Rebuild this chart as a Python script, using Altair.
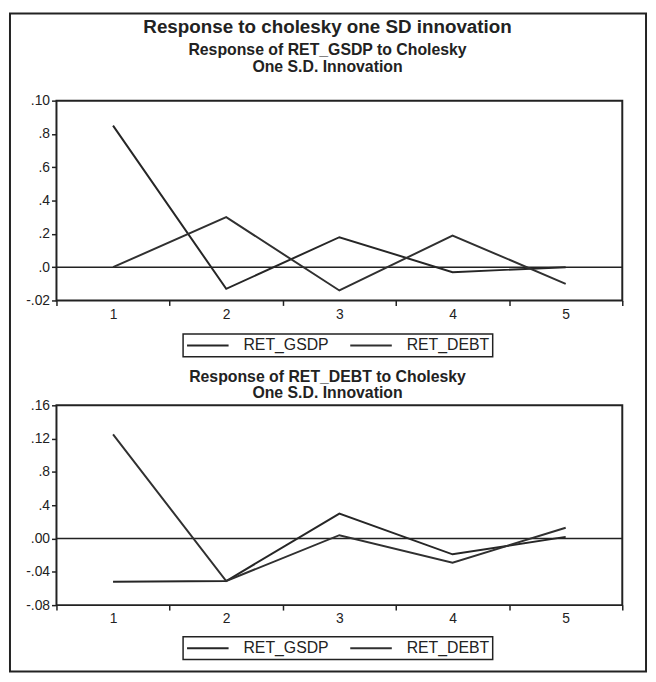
import altair as alt
import pandas as pd

# ---------------- data ----------------
periods = [1, 2, 3, 4, 5]
series_names = ["RET_GSDP", "RET_DEBT"]

# Panel 1: Response of RET_GSDP
gsdp_to_gsdp = [0.085, -0.013, 0.018, -0.003, 0.000]
gsdp_to_debt = [0.000, 0.030, -0.014, 0.019, -0.010]

# Panel 2: Response of RET_DEBT
debt_to_gsdp = [-0.052, -0.051, 0.030, -0.019, 0.002]
debt_to_debt = [0.125, -0.051, 0.004, -0.029, 0.013]

y1_ticks = [0.10, 0.08, 0.06, 0.04, 0.02, 0.00, -0.02]
y1_labels = [".10", ".8", ".6", ".4", ".2", ".0", "-.02"]
y2_ticks = [0.16, 0.12, 0.08, 0.04, 0.00, -0.04, -0.08]
y2_labels = [".16", ".12", ".8", ".4", ".00", "-.04", "-.08"]
x_ticks = [0.5, 1, 1.5, 2, 2.5, 3, 3.5, 4, 4.5, 5, 5.5]

main_title = "Response to cholesky one SD innovation"
panel1_title = ["Response of RET_GSDP to Cholesky", "One S.D. Innovation"]
panel2_title = ["Response of RET_DEBT to Cholesky", "One S.D. Innovation"]

# ---------------- styling / layout ----------------
W, H = 572, 202
FONT = "Liberation Sans"
INK = "#222222"
LINE_COLORS = ["#262626", "#303030"]


def long_df(a, b):
    return pd.DataFrame({
        "period": periods * 2,
        "value": a + b,
        "series": [series_names[0]] * len(a) + [series_names[1]] * len(b),
    })


def label_expr(ticks, labels):
    arr = "[" + ",".join("'" + s + "'" for s in labels) + "]"
    step = ticks[0] - ticks[1]
    return f"{arr}[round(({ticks[0]} - datum.value) / {step})]"


def text_layer(lines, x, y0, dy, size, bold=True):
    layers = []
    for i, line in enumerate(lines):
        layers.append(
            alt.Chart(pd.DataFrame({"t": [line]}))
            .mark_text(font=FONT, fontSize=size, fontWeight="bold" if bold else "normal",
                       color=INK, align="center", baseline="middle")
            .encode(text="t:N", x=alt.value(x), y=alt.value(y0 + i * dy))
        )
    return layers


def panel(df, ticks, labels, title_lines, title_y, legend_y, extra_layers=()):
    x = alt.X(
        "period:Q",
        scale=alt.Scale(domain=[0.5, 5.5], nice=False, zero=False),
        axis=alt.Axis(
            values=x_ticks,
            tickCount=len(x_ticks) + 5,
            labelExpr="datum.value % 1 == 0 ? datum.value : ''",
            tickOpacity={"condition": {"test": "datum.value % 1 != 0", "value": 1}, "value": 0},
            labelFlush=False,
            labelOverlap=False,
            labelFontSize=14,
            labelPadding=2,
            title=None,
        ),
    )
    y = alt.Y(
        "value:Q",
        scale=alt.Scale(domain=[ticks[-1], ticks[0]], nice=False, zero=False),
        axis=alt.Axis(values=ticks, tickCount=len(ticks) + 5,
                      labelExpr=label_expr(ticks, labels),
                      labelOverlap=False, labelFlush=False, labelPadding=2, title=None),
    )
    color = alt.Color(
        "series:N",
        scale=alt.Scale(domain=series_names, range=LINE_COLORS),
        legend=alt.Legend(
            title=None, orient="none", legendX=128, legendY=legend_y,
            direction="horizontal", symbolType="stroke", symbolSize=1764,
            symbolStrokeWidth=2, labelFont=FONT, labelFontSize=16, labelColor=INK,
            labelOffset=14, columnPadding=20, padding=3, strokeColor=INK,
            clipHeight=17,
        ),
    )
    lines = alt.Chart(df).mark_line(strokeWidth=2).encode(x=x, y=y, color=color)
    zero = alt.Chart(pd.DataFrame({"z": [0]})).mark_rule(color=INK, strokeWidth=1.5).encode(y=alt.datum(0))
    titles = text_layer(title_lines, 274, title_y, 17, 16)
    return alt.layer(*extra_layers, *titles, zero, lines).properties(width=W, height=H)


frame = (
    alt.Chart(pd.DataFrame({"a": [0]}))
    .mark_rect(fill="transparent", stroke=INK, strokeWidth=2)
    .encode(x=alt.value(-47), x2=alt.value(596), y=alt.value(-88), y2=alt.value(577))
)
head = text_layer([main_title], 274, -74, 0, 19)

p1 = panel(long_df(gsdp_to_gsdp, gsdp_to_debt), y1_ticks, y1_labels, panel1_title,
           -51, 236, extra_layers=[frame, *head])
p2 = panel(long_df(debt_to_gsdp, debt_to_debt), y2_ticks, y2_labels, panel2_title,
           -29, 234)

chart = (
    alt.vconcat(p1, p2, spacing=106, bounds="flush")
    .resolve_scale(y="independent", color="independent")
    .resolve_legend(color="independent")
    .properties(padding=0, background="white")
    .configure_view(stroke=INK, strokeWidth=2)
    .configure_axis(
        labelFont=FONT, labelFontSize=14, labelColor=INK, tickColor=INK,
        tickWidth=1.5, tickSize=5, domain=False, grid=False,
    )
    .configure_legend(strokeWidth=1.5)
)

chart.save("out.html", embed_options={"renderer": "svg", "actions": False})
